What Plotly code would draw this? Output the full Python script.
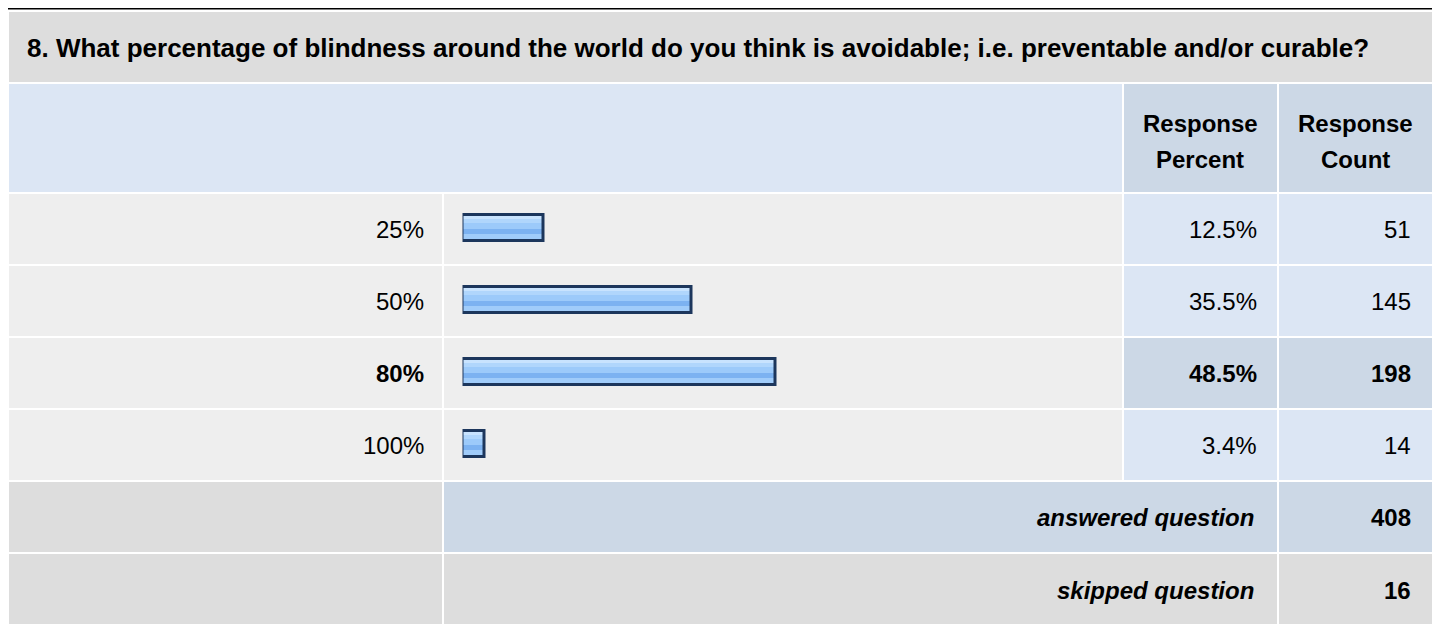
import plotly.graph_objects as go

# the page body keeps its default 8px margin, so the figure is drawn
# 8px smaller and every pixel position below is given in window pixels
OFF = 8
W, H = 1440 - OFF, 624 - OFF

question = "8. What percentage of blindness around the world do you think is avoidable; i.e. preventable and/or curable?"
answer_choices = ["25%", "50%", "80%", "100%"]
response_percent = [12.5, 35.5, 48.5, 3.4]
response_count = [51, 145, 198, 14]
header_percent = ["Response", "Percent"]
header_count = ["Response", "Count"]
answered_label = "answered question"
answered_count = 408
skipped_label = "skipped question"
skipped_count = 16

FONT = "Liberation Sans, Arial, sans-serif"
TITLE_BG = "#dddddd"
HEAD_BG = "#dce6f4"
DARK_BLUE = "#ccd8e6"
ROW_BG = "#eeeeee"
BAR_EDGE = "#1c365c"

# bar gradient bands: (top px, bottom px relative to row centre, colour)
BANDS = [
    (-14.5, 11.5, "#a3cefb"),
    (-13.0, -10.0, "#c8e3fe"),
    (-10.0, -6.0, "#b0d6fc"),
    (-6.0, 0.0, "#9ccafa"),
    (0.0, 5.0, "#7cb2f1"),
    (5.0, 10.0, "#a0ccfa"),
]


def px(x):
    return (x - OFF) / W


def py(y):
    return 1 - (y - OFF) / H


ROW_PITCH = 72
ROW_TOP = 194
ROW_H = 70
best = response_percent.index(max(response_percent))

fig = go.Figure()

# gradient bands of the bars
for top, bot, color in BANDS:
    fig.add_trace(go.Bar(
        x=response_percent, y=answer_choices, orientation="h",
        width=(bot - top) / ROW_PITCH, offset=top / ROW_PITCH,
        marker=dict(color=color, line=dict(width=0)),
        hoverinfo="skip", showlegend=False,
    ))

# bar outline on top
fig.add_trace(go.Bar(
    x=response_percent, y=answer_choices, orientation="h",
    width=26 / ROW_PITCH, offset=-14.5 / ROW_PITCH,
    marker=dict(color="rgba(0,0,0,0)", line=dict(color=BAR_EDGE, width=3)),
    hovertemplate="%{y}: %{x}%<extra></extra>", showlegend=False,
))

shapes = []


def cell(x0, x1, y0, y1, color):
    shapes.append(dict(type="rect", xref="paper", yref="paper", layer="below",
                       x0=px(x0), x1=px(x1), y0=py(y1), y1=py(y0),
                       fillcolor=color, line=dict(width=0)))


# outer border
shapes.append(dict(type="rect", xref="paper", yref="paper", layer="below",
                   x0=px(5), x1=px(1435), y0=py(720), y1=py(8.5),
                   fillcolor="white", line=dict(color="black", width=2)))

cell(9, 1432, 12, 82, TITLE_BG)
cell(9, 1122, 84, 192, HEAD_BG)
cell(1124, 1277, 84, 192, DARK_BLUE)
cell(1279, 1432, 84, 192, DARK_BLUE)

for i in range(len(answer_choices)):
    y0 = ROW_TOP + i * ROW_PITCH
    right = DARK_BLUE if i == best else HEAD_BG
    cell(9, 442, y0, y0 + ROW_H, ROW_BG)
    cell(444, 1122, y0, y0 + ROW_H, ROW_BG)
    cell(1124, 1277, y0, y0 + ROW_H, right)
    cell(1279, 1432, y0, y0 + ROW_H, right)

y_ans = ROW_TOP + 4 * ROW_PITCH
y_skip = ROW_TOP + 5 * ROW_PITCH
cell(9, 442, y_ans, y_ans + ROW_H, TITLE_BG)
cell(444, 1277, y_ans, y_ans + ROW_H, DARK_BLUE)
cell(1279, 1432, y_ans, y_ans + ROW_H, DARK_BLUE)
cell(9, 442, y_skip, y_skip + ROW_H, TITLE_BG)
cell(444, 1277, y_skip, y_skip + ROW_H, TITLE_BG)
cell(1279, 1432, y_skip, y_skip + ROW_H, TITLE_BG)

annotations = []


def text(s, x, y, anchor="left", bold=False, italic=False, yref="paper", size=24):
    if bold:
        s = f"<b>{s}</b>"
    if italic:
        s = f"<i>{s}</i>"
    annotations.append(dict(text=s, x=px(x), xref="paper", xanchor=anchor,
                            y=y if yref == "y" else py(y), yref=yref,
                            yanchor="middle", showarrow=False,
                            font=dict(family=FONT, size=size, color="black")))


text(question, 25, 48, bold=True, size=26)
text(header_percent[0], 1200, 123, anchor="center", bold=True)
text(header_percent[1], 1200, 160, anchor="center", bold=True)
text(header_count[0], 1355, 123, anchor="center", bold=True)
text(header_count[1], 1355, 160, anchor="center", bold=True)

for i, (lab, pct, cnt) in enumerate(zip(answer_choices, response_percent, response_count)):
    b = i == best
    text(lab, 426, lab, anchor="right", bold=b, yref="y")
    text(f"{pct}%", 1259, lab, anchor="right", bold=b, yref="y")
    text(str(cnt), 1413, lab, anchor="right", bold=b, yref="y")

text(answered_label, 1256, y_ans + 35, anchor="right", bold=True, italic=True)
text(str(answered_count), 1413, y_ans + 35, anchor="right", bold=True)
text(skipped_label, 1256, y_skip + 36, anchor="right", bold=True, italic=True)
text(str(skipped_count), 1413, y_skip + 36, anchor="right", bold=True)

x0_px = 462.5
scale = 6.45
fig.update_layout(
    width=W, height=H,
    margin=dict(l=0, r=0, t=0, b=0),
    paper_bgcolor="white", plot_bgcolor="rgba(0,0,0,0)",
    barmode="overlay", bargap=0,
    xaxis=dict(domain=[px(x0_px), px(x0_px + 100 * scale)], range=[0, 100],
               visible=False, fixedrange=True),
    yaxis=dict(domain=[py(481), py(193)], type="category",
               categoryorder="array", categoryarray=answer_choices,
               range=[3.5, -0.5], visible=False, fixedrange=True),
    shapes=shapes, annotations=annotations,
    showlegend=False,
)

fig.write_html("out.html")
